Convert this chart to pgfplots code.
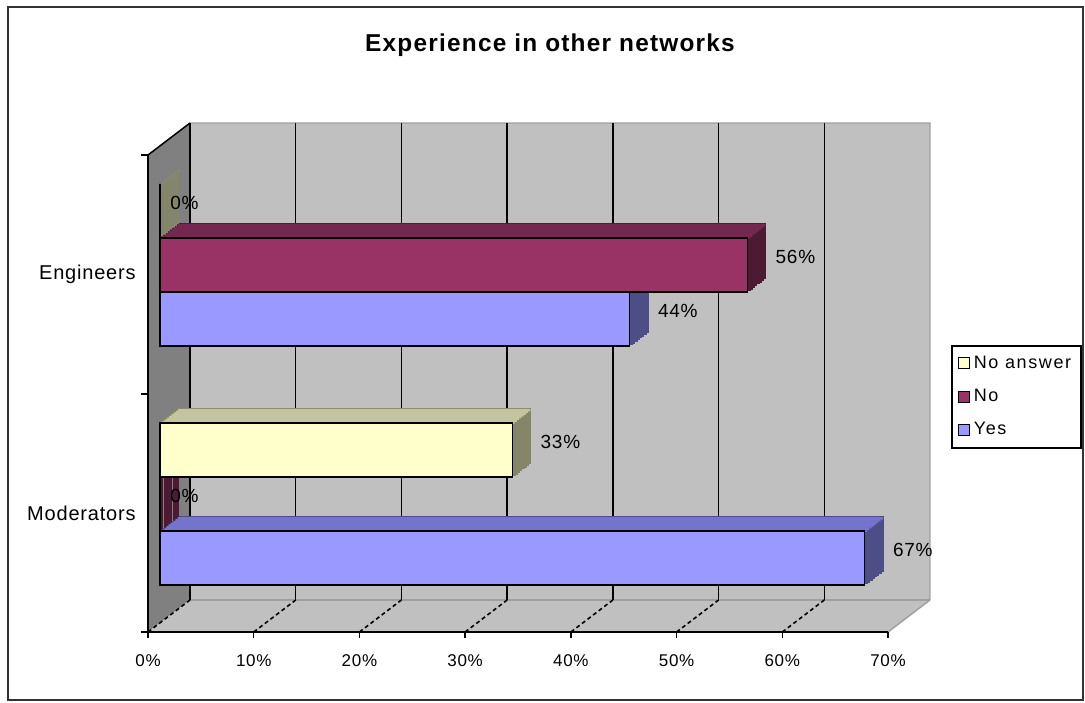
\documentclass[border=0pt]{standalone}
\usepackage{pgfplots}
\pgfplotsset{compat=1.18}
\usepackage{pgfplotstable}
\usepackage{fontspec}
\setmainfont{Liberation Sans}
\newfontfamily\cf[LetterSpace=4]{Liberation Sans}
\newfontfamily\lf[LetterSpace=9]{Liberation Sans}
\newfontfamily\tf[LetterSpace=5]{Liberation Sans}

\definecolor{yesF}{HTML}{9999FF}
\definecolor{yesT}{HTML}{7474CC}
\definecolor{yesS}{HTML}{4D4D88}
\definecolor{noF}{HTML}{993366}
\definecolor{noT}{HTML}{75284F}
\definecolor{noS}{HTML}{4D1A33}
\definecolor{naF}{HTML}{FFFFCC}
\definecolor{naT}{HTML}{C4C4A0}
\definecolor{naS}{HTML}{85856A}
\definecolor{wall}{HTML}{C0C0C0}
\definecolor{sidewall}{HTML}{808080}

\pgfplotstableread{
cat na no yes
0 33.33 0 66.67
1 0 55.56 44.44
}\data

% depth faces: #1 column, #2 bar shift, #3 top-strip shift, #4 top colour, #5 side colour
\newcommand{\depth}[5]{%
  \pgfplotsinvokeforeach{8,7,6,5,4,3,2,1}{%
    \addplot[forget plot, xbar, bar width=0.226, bar shift=#2, fill=#5, draw=#5,
      line width=1pt, xshift=##1*1.125pt, yshift=##1*0.875pt]
      table[x=#1,y=cat]{\data};
  }%
  \pgfplotsinvokeforeach{1,2,3,4,5,6,7,8}{%
    \addplot[forget plot, xbar, bar width=0.0105, bar shift=#3, fill=#4, draw=none,
      xshift=##1*1.125pt, yshift=##1*0.875pt]
      table[x=#1,y=cat]{\data};
  }%
}
% front faces: #1 column, #2 bar shift, #3 colour, #4 legend text, #5 label yshift
\newcommand{\front}[5]{%
  \addplot[xbar, bar width=0.226, bar shift=#2, fill=#3, draw=black, line width=0.6pt,
    point meta=x,
    nodes near coords={\pgfmathprintnumber[fixed,precision=0]{\pgfplotspointmeta}\%},
    visualization depends on={x \as \xv},
    every node near coord/.append style={anchor=west, text=black,
      font=\cf\fontsize{9.5}{11}\selectfont,
      xshift={(\xv<1?1.5:10.5)*1pt}, yshift=#5}]
    table[x=#1,y=cat]{\data};
  \addlegendentry{#4}
}

\begin{document}
\begin{tikzpicture}
\begin{scope}[x=0.5pt,y=-0.5pt]
  \path[use as bounding box] (0,0) rectangle (1085,702);
  \draw[line width=0.9pt, black!80] (8,7) rectangle (1083,700);
  % side wall
  \fill[sidewall] (148,155) -- (190,123) -- (190,600) -- (148,632) -- cycle;
  % back wall
  \fill[wall] (190,123) rectangle (930,600);
  % floor
  \fill[wall] (148,632) -- (190,600) -- (930,600) -- (888,632) -- cycle;
  \draw[gray!75, line width=0.7pt] (190,123) -- (930,123) -- (930,600) -- (888,632);
  \draw[gray!75, line width=0.7pt] (190,600) -- (930,600);
  % back wall grid lines
  \foreach \k in {0,...,6}
    \draw[black, line width=0.75pt] ({190+105.714*\k},123) -- ({190+105.714*\k},600);
  % floor lines
  \foreach \k in {0,...,6}
    \draw[black, dash pattern=on 2pt off 1.5pt, line width=0.8pt] ({148+105.714*\k},632) -- ({190+105.714*\k},600);
  \draw[black, line width=0.75pt] (148,155) -- (190,123);
  % front axis lines
  \draw[black, line width=0.75pt] (148,155) -- (148,632) -- (888,632);
  \foreach \k in {0,...,7}
    \draw[black, line width=0.75pt] ({148+105.714*\k},632) -- ++(0,6);
  \foreach \y in {155,394,632}
    \draw[black, line width=0.75pt] (148,\y) -- ++(-7,0);
  % title
  \node[font=\tf\bfseries\fontsize{12.2}{14}\selectfont] at (550,45) {Experience in other networks};
\end{scope}

\begin{axis}[
  at={(80pt,-311.75pt)}, anchor=south west,
  scale only axis, width=370pt, height=239pt,
  xmin=0, xmax=70, ymin=-0.5, ymax=1.5,
  clip=false,
  /pgf/number format/assume math mode=true,
  axis line style={draw=none},
  major tick length=0pt,
  xtick={0,10,...,70},
  xticklabel={\pgfmathprintnumber{\tick}\%},
  xticklabel style={anchor=center, yshift=-18.75pt, xshift=-6pt,
    font=\cf\fontsize{8.5}{10}\selectfont},
  ytick={0,1}, yticklabels={Moderators,Engineers},
  yticklabel style={anchor=east, inner sep=0pt, xshift=-12pt, yshift=-4.75pt,
    font=\cf\fontsize{10}{12}\selectfont},
  reverse legend,
  legend style={at={(1.069,0.5826)}, anchor=north west, draw=black, line width=0.75pt,
    font=\lf\fontsize{9}{11}\selectfont, inner xsep=3pt, inner ysep=3pt, row sep=5pt,
    cells={anchor=west}},
  legend image code/.code={\draw[#1, draw=black, line width=0.5pt] (0pt,-2.75pt) rectangle (5.5pt,2.75pt);},
]
  \depth{yes}{-0.226}{-0.1182}{yesT}{yesS}
  \front{yes}{-0.226}{yesF}{Yes}{-23pt}
  \depth{no}{0}{0.1078}{noT}{noS}
  \front{no}{0}{noF}{No}{4pt}
  \depth{na}{0.226}{0.3338}{naT}{naS}
  \front{na}{0.226}{naF}{No answer}{31pt}
\end{axis}
\end{tikzpicture}
\end{document}
